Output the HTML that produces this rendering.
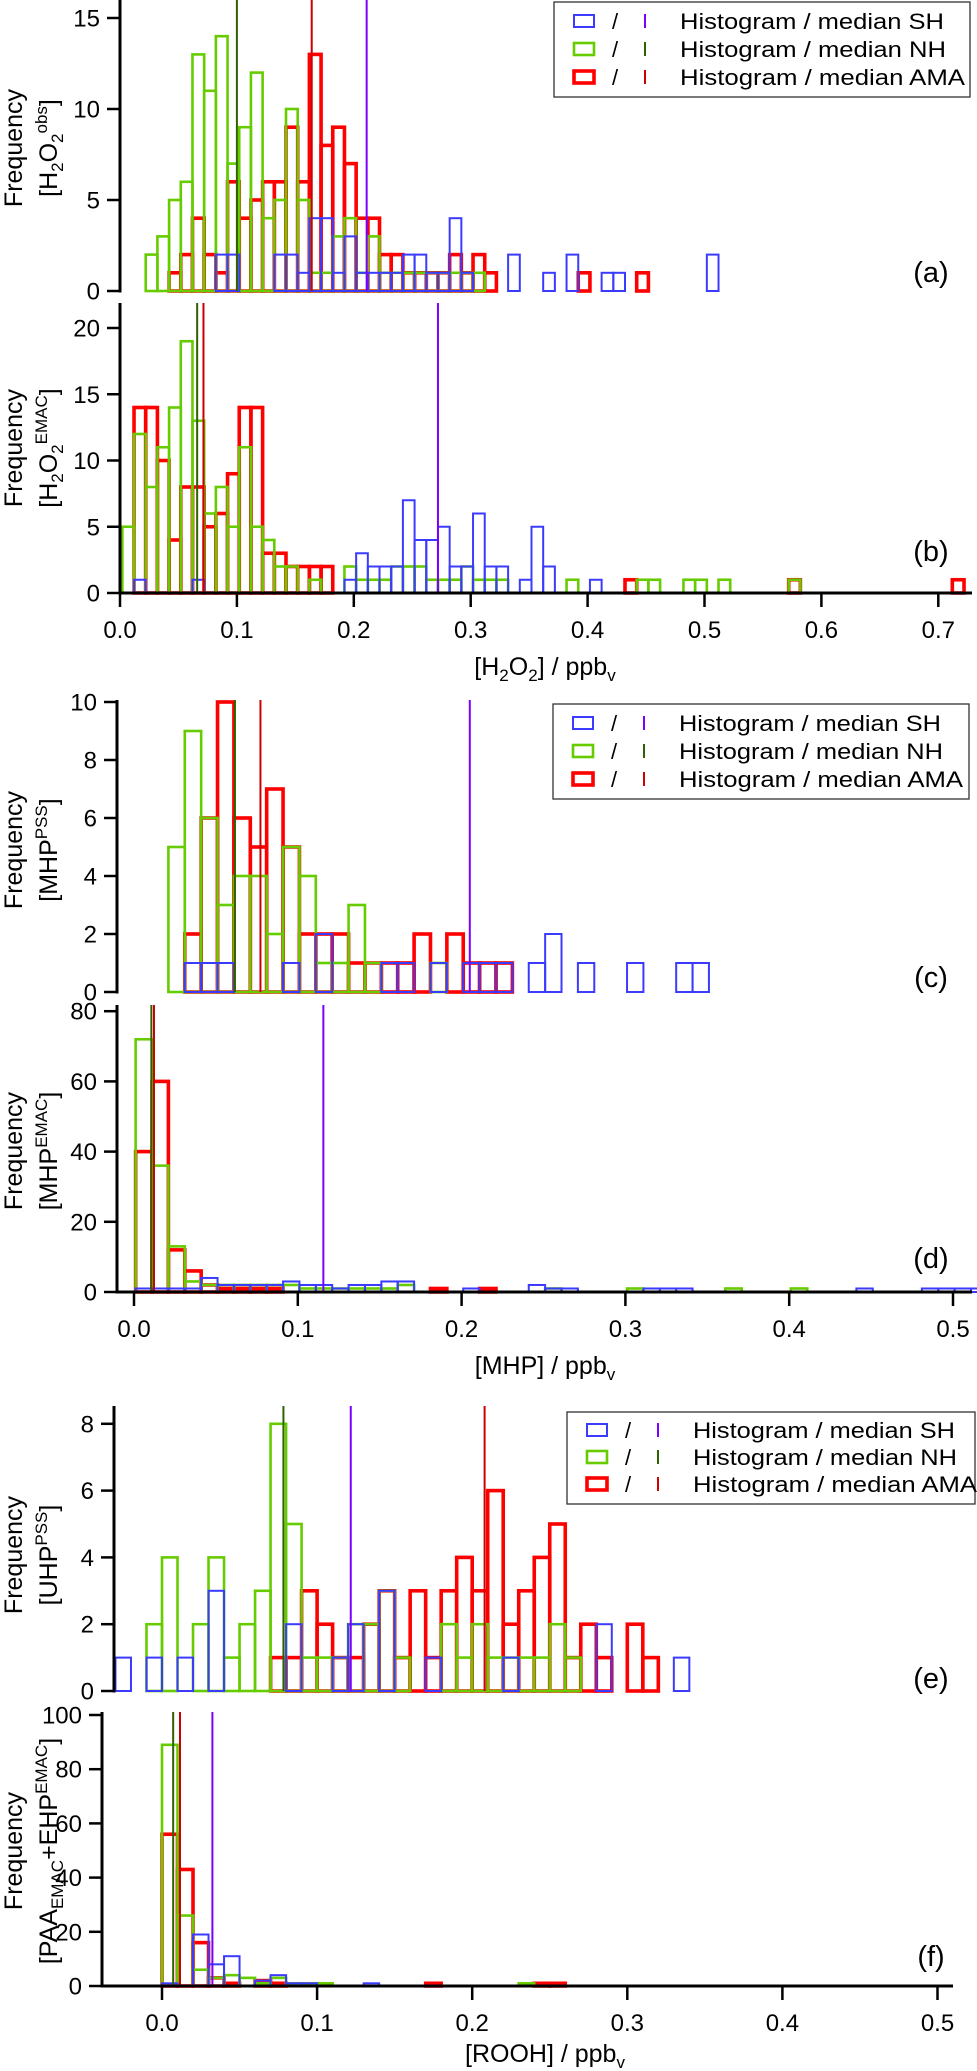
<!DOCTYPE html>
<html><head><meta charset="utf-8">
<style>
html,body{margin:0;padding:0;background:#fff;}
svg{display:block;font-family:"Liberation Sans",Arial,sans-serif;}
</style></head>
<body>
<svg id="chart" width="977" height="2071" viewBox="0 0 977 2071" xmlns="http://www.w3.org/2000/svg">
<rect width="977" height="2071" fill="#fff"/>
</svg>
<script>
// ---------- DATA ----------
const binWidth = 0.01;
const originH2O2 = 0.002;
const originMHP = 0.001;
const originROOH = 0.0;

// Panel (a) H2O2 obs
const aSH_bins = [8,9,13,14,15,16,17,18,19,20,21,22,23,24,25,26,27,28,29,33,36,38,41,42,50];
const aSH_counts = [2,2,2,2,1,4,4,1,3,1,1,1,1,2,2,1,1,4,1,2,1,2,1,1,2];
const aNH_bins = [2,3,4,5,6,7,8,9,10,11,12,13,14,15,16,17,18,19,20,21,22,23,24,25,26,27,28,29,30];
const aNH_counts = [2,3,5,6,13,11,14,7,9,12,4,5,10,5,1,1,3,4,1,3,1,1,1,1,1,1,1,1,1];
const aAMA_bins = [4,5,6,7,8,9,10,11,12,13,14,15,16,17,18,19,20,21,22,23,24,25,26,27,28,29,30,31,39,44];
const aAMA_counts = [1,2,4,2,1,6,4,5,6,6,9,6,13,8,9,7,4,4,2,2,1,1,1,1,2,1,2,1,1,1];
const aMedians = [0.211, 0.100, 0.164];

// Panel (b) H2O2 EMAC
const bSH_bins = [1,6,19,20,21,22,23,24,25,26,27,28,29,30,31,32,34,35,36,40];
const bSH_counts = [1,1,1,3,2,2,2,7,4,4,5,2,2,6,2,2,1,5,2,1];
const bNH_bins = [0,1,2,3,4,5,6,7,8,9,10,11,12,13,14,16,19,20,21,22,23,24,25,26,27,28,29,30,31,32,38,44,45,48,49,51,57];
const bNH_counts = [5,12,8,11,14,19,13,6,8,5,11,5,4,2,2,1,2,1,1,1,2,2,2,1,1,1,2,1,1,1,1,1,1,1,1,1,1];
const bAMA_bins = [1,2,3,4,5,6,7,8,9,10,11,12,13,14,15,16,17,43,57,71];
const bAMA_counts = [14,14,10,4,8,8,5,6,9,14,14,3,3,2,2,2,2,1,1,1];
const bMedians = [0.272, 0.066, 0.0714];
const bTicks = ["0.0","0.1","0.2","0.3","0.4","0.5","0.6","0.7"];

// Panel (c) MHP PSS
const cSH_bins = [3,4,5,9,11,15,16,18,20,21,22,24,25,27,30,33,34];
const cSH_counts = [1,1,1,1,2,1,1,1,1,1,1,1,2,1,1,1,1];
const cNH_bins = [2,3,4,5,6,7,8,9,10,11,12,13,14,18];
const cNH_counts = [5,9,6,3,4,4,2,5,4,1,1,3,1,1];
const cAMA_bins = [3,4,5,6,7,8,9,10,11,12,13,14,15,16,17,19,20,21,22];
const cAMA_counts = [2,6,10,6,5,7,5,2,2,2,1,1,1,1,2,2,1,1,1];
const cMedians = [0.205, 0.0616, 0.0772];

// Panel (d) MHP EMAC
const dSH_bins = [0,1,2,3,4,5,6,7,8,9,10,11,12,13,14,15,16,20,24,25,26,31,32,33,44,48,49,50,51];
const dSH_counts = [1,1,1,1,4,2,2,2,2,3,2,2,1,2,2,3,3,1,2,1,1,1,1,1,1,1,1,1,1];
const dNH_bins = [0,1,2,3,4,5,6,7,8,9,10,11,12,13,14,15,16,25,30,36,40];
const dNH_counts = [72,36,13,3,2,2,2,2,2,2,1,1,1,1,1,1,2,1,1,1,1];
const dAMA_bins = [0,1,2,3,4,5,6,7,8,18,21];
const dAMA_counts = [40,60,12,6,2,1,1,1,1,1,1];
const dMedians = [0.1156, 0.0106, 0.0122];
const dTicks = ["0.0","0.1","0.2","0.3","0.4","0.5"];

// Panel (e) UHP PSS
const eSH_bins = [-3,-1,1,3,8,11,12,14,17,22,28,33];
const eSH_counts = [1,1,1,3,2,1,2,3,1,1,2,1];
const eNH_bins = [-1,0,2,3,4,5,6,7,8,9,10,11,12,13,14,15,18,19,20,21,22,23,24,25,26];
const eNH_counts = [2,4,2,4,1,2,3,8,5,1,1,1,2,2,3,1,2,1,2,1,1,1,1,2,1];
const eAMA_bins = [7,8,9,10,11,12,13,14,15,16,17,18,19,20,21,22,23,24,25,26,27,28,30,31];
const eAMA_counts = [1,1,3,2,1,1,2,3,1,3,1,3,4,3,6,2,3,4,5,1,2,1,2,1];
const eMedians = [0.1217, 0.0783, 0.208];

// Panel (f) PAA+EHP EMAC
const fSH_bins = [0,2,3,4,6,7,8,9,13];
const fSH_counts = [1,19,8,11,2,4,1,1,1];
const fNH_bins = [0,1,2,3,4,5,6,7,8,9,10,23];
const fNH_counts = [89,26,6,3,4,3,1,3,1,1,1,1];
const fAMA_bins = [0,1,2,3,4,6,7,17,24,25];
const fAMA_counts = [56,43,16,3,1,2,1,1,1,1];
const fMedians = [0.0325, 0.0072, 0.0116];
const fTicks = ["0.0","0.1","0.2","0.3","0.4","0.5"];

// ---------- DRAWING ----------
const NS = "http://www.w3.org/2000/svg";
const svg = document.getElementById("chart");
function el(tag, attrs, parent, text){
  const e = document.createElementNS(NS, tag);
  for (const k in attrs) e.setAttribute(k, attrs[k]);
  if (text !== undefined) e.textContent = text;
  (parent || svg).appendChild(e);
  return e;
}
const COLORS = {SH:"#3b3bff", NH:"#66cc00", AMA:"#ff0000"};
const WIDTHS = {SH:2, NH:2.6, AMA:3.6};
const MEDCOL = {SH:"#7a00ff", NH:"#2e6200", AMA:"#cc0000"};

function makePanel(p){
  const g = el("g", {});
  
  
  const xs = v => p.x0 + v * p.pxPer;
  const ys = c => p.yBase - c * p.yUnit;
  const order = ["AMA","NH","SH"];
  order.forEach(s => {
    const sg = el("g", {fill:"none", stroke:COLORS[s], "stroke-width":WIDTHS[s]}, g);
    
    
    const bins = p.series[s][0], counts = p.series[s][1];
    for (let i = 0; i < bins.length; i++){
      const left = p.origin + bins[i] * binWidth;
      const x1 = xs(left), x2 = xs(left + binWidth);
      const y1 = ys(counts[i]);
      const r = el("rect", {x:x1, y:y1, width:x2 - x1, height:p.yBase - y1}, sg);
      
      
    }
  });
  ["SH","NH","AMA"].forEach((s, i) => {
    const mx = xs(p.medians[i]);
    const l = el("line", {x1:mx, x2:mx, y1:p.top, y2:p.yBase, stroke:MEDCOL[s], "stroke-width":2}, g);
    
    
  });
  const ya = el("g", {}, g);
  
  
  el("line", {x1:p.axisX, x2:p.axisX, y1:p.top, y2:p.yBase + 1.5, stroke:"#000", "stroke-width":3}, ya);
  p.yTicks.forEach(t => {
    const y = ys(t);
    el("line", {x1:p.axisX - 13, x2:p.axisX, y1:y, y2:y, stroke:"#000", "stroke-width":2.5}, ya);
    const tl = el("text", {x:p.axisX - 20, y:y + 8.5, "text-anchor":"end", "font-size":24}, ya, String(t));
    
    
  });
  if (p.xTicks){
    const xa = el("g", {}, g);
    
    
    el("line", {x1:p.axisX, x2:p.xEnd, y1:p.yBase, y2:p.yBase, stroke:"#000", "stroke-width":3}, xa);
    p.xTicks.forEach(t => {
      const x = xs(parseFloat(t));
      el("line", {x1:x, x2:x, y1:p.yBase, y2:p.yBase + 14, stroke:"#000", "stroke-width":2.5}, xa);
      const tl = el("text", {x:x, y:p.yBase + 45, "text-anchor":"middle", "font-size":24}, xa, t);
      
      
    });
  }
  const lt = el("text", {x:931, y:p.letterY, "text-anchor":"middle", "font-size":29}, g, "(" + p.id + ")");
  
  
  const ft = el("text", {transform:"translate(22," + p.titleY + ") rotate(-90)", "text-anchor":"middle", "font-size":25}, g, "Frequency");
  
  
  const st = el("text", {transform:"translate(" + p.subX + "," + p.titleY + ") rotate(-90)", "text-anchor":"middle", "font-size":25}, g);
  
  
  p.label.forEach(part => {
    const ts = el("tspan", {}, st, part[0]);
    if (part[1] === "sub") { ts.setAttribute("font-size", 17); ts.setAttribute("dy", 6); }
    if (part[1] === "sup") { ts.setAttribute("font-size", 17); ts.setAttribute("dy", part[2] || -14); }
    if (part[1] === "n") { ts.setAttribute("dy", part[2] || 0); }
  });
  return g;
}

function legend(x, y, w, h, rows, textLen){
  const g = el("g", {});
  
  
  el("rect", {x:x, y:y, width:w, height:h, fill:"#fff", stroke:"#333", "stroke-width":1.3}, g);
  const names = ["SH","NH","AMA"];
  names.forEach((s, i) => {
    const ry = y + rows[i];
    const eg = el("g", {}, g);
    
    
    el("rect", {x:x + 20, y:ry - 6, width:20, height:12, fill:"none", stroke:COLORS[s], "stroke-width":WIDTHS[s]}, eg);
    el("text", {x:x + 61, y:ry + 8, "text-anchor":"middle", "font-size":22}, eg, "/");
    el("line", {x1:x + 91, x2:x + 91, y1:ry - 7, y2:ry + 7, stroke:MEDCOL[s], "stroke-width":2}, eg);
    el("text", {x:x + 126, y:ry + 8, "font-size":22, textLength:textLen[i], lengthAdjust:"spacingAndGlyphs", "xml:space":"preserve"}, eg, "Histogram / median  " + s);
  });
}

const panels = [
  {id:"a", x0:120, pxPer:1169, axisX:120, origin:originH2O2, top:0, yBase:291, yUnit:18.2, yTicks:[0,5,10,15],
   series:{SH:[aSH_bins,aSH_counts], NH:[aNH_bins,aNH_counts], AMA:[aAMA_bins,aAMA_counts]}, medians:aMedians,
   letterY:282, titleY:148, subX:57, label:[["[H"],["2","sub"],["O","n",-6],["2","sub"],["obs","sup",-16],["]","n",10]]},
  {id:"b", x0:120, pxPer:1169, axisX:120, origin:originH2O2, top:303, yBase:593, yUnit:13.25, yTicks:[0,5,10,15,20],
   series:{SH:[bSH_bins,bSH_counts], NH:[bNH_bins,bNH_counts], AMA:[bAMA_bins,bAMA_counts]}, medians:bMedians,
   xTicks:bTicks, xEnd:972, letterY:561, titleY:448, subX:57, label:[["[H"],["2","sub"],["O","n",-6],["2","sub"],["EMAC","sup",-16],["]","n",10]]},
  {id:"c", x0:134, pxPer:1638, axisX:117, origin:originMHP, top:700, yBase:992, yUnit:29, yTicks:[0,2,4,6,8,10],
   series:{SH:[cSH_bins,cSH_counts], NH:[cNH_bins,cNH_counts], AMA:[cAMA_bins,cAMA_counts]}, medians:cMedians,
   letterY:987, titleY:850, subX:57, label:[["[MHP"],["PSS","sup",-10],["]","n",10]]},
  {id:"d", x0:134, pxPer:1638, axisX:117, origin:originMHP, top:1005, yBase:1292, yUnit:3.51, yTicks:[0,20,40,60,80],
   series:{SH:[dSH_bins,dSH_counts], NH:[dNH_bins,dNH_counts], AMA:[dAMA_bins,dAMA_counts]}, medians:dMedians,
   xTicks:dTicks, xEnd:972, letterY:1268, titleY:1151, subX:57, label:[["[MHP"],["EMAC","sup",-10],["]","n",10]]},
  {id:"e", x0:162, pxPer:1551, axisX:114, origin:originROOH, top:1406, yBase:1691, yUnit:33.4, yTicks:[0,2,4,6,8],
   series:{SH:[eSH_bins,eSH_counts], NH:[eNH_bins,eNH_counts], AMA:[eAMA_bins,eAMA_counts]}, medians:eMedians,
   letterY:1688, titleY:1555, subX:57, label:[["[UHP"],["PSS","sup",-10],["]","n",10]]},
  {id:"f", x0:162, pxPer:1551, axisX:102, origin:originROOH, top:1712, yBase:1986, yUnit:2.71, yTicks:[0,20,40,60,80,100],
   series:{SH:[fSH_bins,fSH_counts], NH:[fNH_bins,fNH_counts], AMA:[fAMA_bins,fAMA_counts]}, medians:fMedians,
   xTicks:fTicks, xEnd:953, letterY:1966, titleY:1851, subX:57, label:[["[PAA"],["EMAC","sub"],["+EHP","n",-6],["EMAC","sup",-10],["]","n",10]]}
];
panels.forEach(makePanel);

legend(554, 2, 416, 95, [19, 47, 75], [264, 266, 285]);
legend(553, 704, 416, 95, [19, 47, 75], [262, 264, 284]);
legend(567, 1412, 408, 92, [18, 45, 72], [262, 264, 284]);

function xTitle(y, parts, name){
  const t = el("text", {x:545, y:y, "text-anchor":"middle", "font-size":25});
  
  
  parts.forEach(part => {
    const ts = el("tspan", {}, t, part[0]);
    if (part[1] === "sub") { ts.setAttribute("font-size", 17); ts.setAttribute("dy", 6); }
    if (part[1] === "n") { ts.setAttribute("dy", part[2]); }
  });
}
xTitle(675, [["[H"],["2","sub"],["O","n",-6],["2","sub"],["] / ppb","n",-6],["v","sub"]], "x-axis-title-h2o2");
xTitle(1374, [["[MHP] / ppb"],["v","sub"]], "x-axis-title-mhp");
xTitle(2062, [["[ROOH] / ppb"],["v","sub"]], "x-axis-title-rooh");
</script>
</body></html>
